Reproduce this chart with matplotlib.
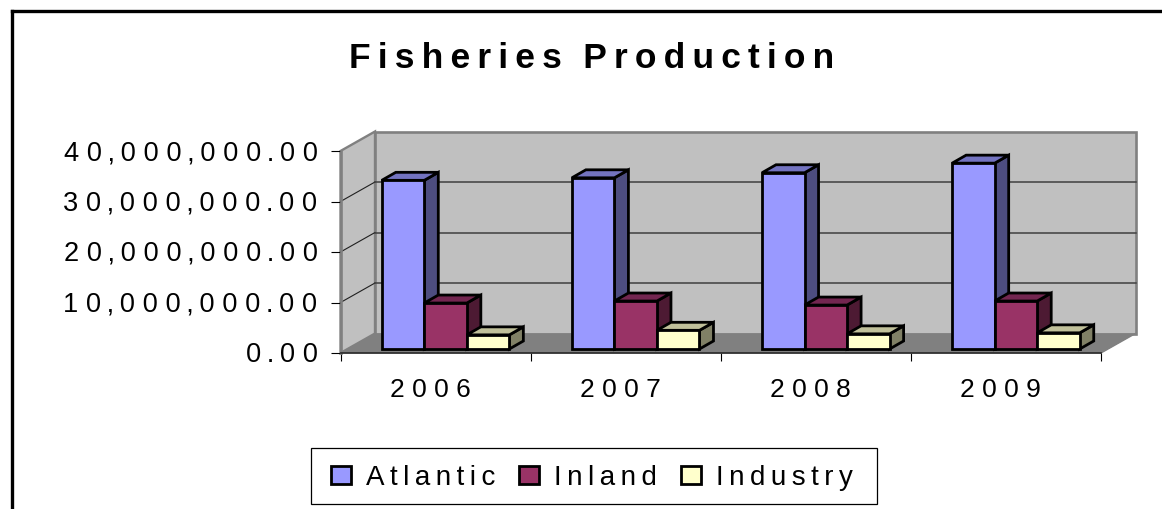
import matplotlib
matplotlib.use("Agg")
import matplotlib.pyplot as plt
from matplotlib.lines import Line2D
from matplotlib.patches import Patch, Polygon, Rectangle
from matplotlib.transforms import Affine2D, IdentityTransform

years = ["2006", "2007", "2008", "2009"]
atlantic = [33.4e6, 33.9e6, 34.9e6, 36.8e6]
inland = [9.1e6, 9.5e6, 8.7e6, 9.5e6]
industry = [2.8e6, 3.7e6, 3.0e6, 3.2e6]
series_names = ["Atlantic", "Inland", "Industry"]
y_ticks = [0, 10e6, 20e6, 30e6, 40e6]
title_text = "Fisheries Production"

front_colors = ["#9999FF", "#993366", "#FFFFCC"]
top_colors = ["#7373C0", "#732650", "#C0C09A"]
side_colors = ["#4D4D80", "#4D1A33", "#808066"]

W, H = 1162, 510
plt.rcParams["font.family"] = ["Liberation Sans", "DejaVu Sans"]
THIN = "\u2009"
BAR_LW = 2.0


def thin_spaced(s):
    return THIN.join(s).replace(THIN + " " + THIN, THIN + THIN + THIN)


def number_label(v):
    s = f"{v:,.2f}"
    out = s[0]
    for a, b in zip(s, s[1:]):
        out += (THIN if a in ",." or b in ",." else " ") + b
    return out


fig = plt.figure(figsize=(W / 100, H / 100), dpi=100, facecolor="white")
L, R, T, B = 340.5, 1101, 152, 354
ax = fig.add_axes([L / W, 1 - B / H, (R - L) / W, (B - T) / H])
ax.set_xlim(0, len(years))
ax.set_ylim(0, 40e6)
ax.patch.set_visible(False)

DX, DY = 34.5, 19.5      # full floor depth, pixels
BX, BY = 10, 4           # bar front plane, pixels from the front edge
CX, CY = 14, 8           # bar depth, pixels
to_px = ax.transData
ident = IdentityTransform()


def px(x, v, dx=0.0, dy=0.0):
    a, b = to_px.transform((x, v))
    return (a + dx, b + dy)


def poly(pts, fc, ec, lw, z, join="miter"):
    ax.add_patch(Polygon(pts, closed=True, facecolor=fc, edgecolor=ec, linewidth=lw,
                         transform=ident, clip_on=False, zorder=z, joinstyle=join))


xmax = len(years)
vmax = y_ticks[-1]
# floor
poly([px(0, 0), px(xmax, 0), px(xmax, 0, DX, DY), px(0, 0, DX, DY)], "#808080", "none", 0, 1)
# left wall
poly([px(0, 0), px(0, vmax), px(0, vmax, DX, DY), px(0, 0, DX, DY)], "#C0C0C0", "#808080", 1.7, 1.5)
# back wall
poly([px(0, 0, DX, DY), px(xmax, 0, DX, DY), px(xmax, vmax, DX, DY), px(0, vmax, DX, DY)],
     "#C0C0C0", "#808080", 1.9, 2)
# redraw floor over wall edge
poly([px(0, 0), px(xmax, 0), px(xmax, 0, DX, DY), px(0, 0, DX, DY)], "#808080", "none", 0, 2.1)

for v in y_ticks[1:-1]:
    a = px(0, v)
    b = px(0, v, DX, DY)
    c = px(xmax, v, DX, DY)
    ax.add_line(Line2D([a[0], b[0]], [a[1], b[1]], color="#202020", lw=0.8, transform=ident, clip_on=False, zorder=3))
    ax.add_line(Line2D([b[0], c[0]], [b[1], c[1]], color="#404040", lw=1.1, transform=ident, clip_on=False, zorder=3))

# floor right slope
a, b = px(xmax, 0), px(xmax, 0, DX, DY)
ax.add_line(Line2D([a[0], b[0]], [a[1], b[1]], color="#808080", lw=1.0, transform=ident, clip_on=False, zorder=3))

# bars
w = 0.2237
front_tr = to_px + Affine2D().translate(BX, BY)
z = 4.0
for i in range(len(years)):
    for j, vals in enumerate([atlantic, inland, industry]):
        x0 = i + 0.5 + (j - 1.5) * w
        v = vals[i]
        x1 = x0 + w
        ox, oy = BX, BY
        poly([px(x1, 0, ox, oy), px(x1, v, ox, oy), px(x1, v, ox + CX, oy + CY), px(x1, 0, ox + CX, oy + CY)],
             side_colors[j], "black", BAR_LW, z)
        poly([px(x0, v, ox, oy), px(x1, v, ox, oy), px(x1, v, ox + CX, oy + CY), px(x0, v, ox + CX, oy + CY)],
             top_colors[j], "black", BAR_LW, z + 0.01)
        ax.bar(x0, v, width=w, align="edge", color=front_colors[j], edgecolor="black", linewidth=BAR_LW,
               transform=front_tr, clip_on=False, zorder=z + 0.02)
        z += 0.1

# axes
for s in ("top", "right"):
    ax.spines[s].set_visible(False)
ax.spines["left"].set_color("#808080")
ax.spines["left"].set_linewidth(1.9)
ax.spines["bottom"].set_color("#303030")
ax.spines["bottom"].set_linewidth(1.3)
ax.spines["left"].set_zorder(3.5)
ax.spines["bottom"].set_zorder(3.5)

ax.set_yticks(y_ticks)
ax.set_yticklabels([number_label(v) for v in y_ticks], fontsize=19.6, color="black")
ax.tick_params(axis="y", length=7.5, width=0.8, color="black", pad=9)
for lab in ax.get_yticklabels():
    lab.set_transform(lab.get_transform() + Affine2D().translate(0, 2))
ax.set_xticks(range(len(years) + 1))
ax.set_xticklabels([])
ax.tick_params(axis="x", which="major", length=6, width=0.8, color="black")
ax.set_xticks([i + 0.5 for i in range(len(years))], minor=True)
ax.set_xticklabels([" ".join(y) for y in years], minor=True, fontsize=19, color="black")
ax.tick_params(axis="x", which="minor", length=0, pad=17)
for lab in ax.get_xticklabels(minor=True):
    lab.set_transform(lab.get_transform() + Affine2D().translate(-5, 0))

# title
fig.text(592 / W, 1 - 59 / H, thin_spaced(title_text), fontsize=25.5, fontweight="bold",
         ha="center", va="center", color="black")

# legend box, drawn separately so its size can be set exactly
fig.add_artist(Rectangle((311 / W, 1 - 505 / H), 566 / W, 56 / H, transform=fig.transFigure,
                         facecolor="white", edgecolor="black", linewidth=0.9))
handles = [Patch(facecolor=c, edgecolor="black", linewidth=BAR_LW) for c in front_colors]
leg = fig.legend(handles, [thin_spaced(n) for n in series_names], ncol=3, fontsize=20,
                 loc="center", bbox_to_anchor=(592 / W, 1 - 478.5 / H),
                 frameon=False,
                 handlelength=0.72, handleheight=0.6, handletextpad=0.55, columnspacing=0.85,
                 borderpad=0.6, borderaxespad=0)
leg.set_zorder(10)

# chart border
fig.add_artist(Line2D([12 / W, 12 / W], [0, 1 - 12 / H], color="black", lw=2.4, solid_capstyle="projecting"))
fig.add_artist(Line2D([12 / W, 1], [1 - 12 / H, 1 - 12 / H], color="black", lw=2.4, solid_capstyle="projecting"))

fig.savefig("out.png", dpi=100, facecolor="white")
